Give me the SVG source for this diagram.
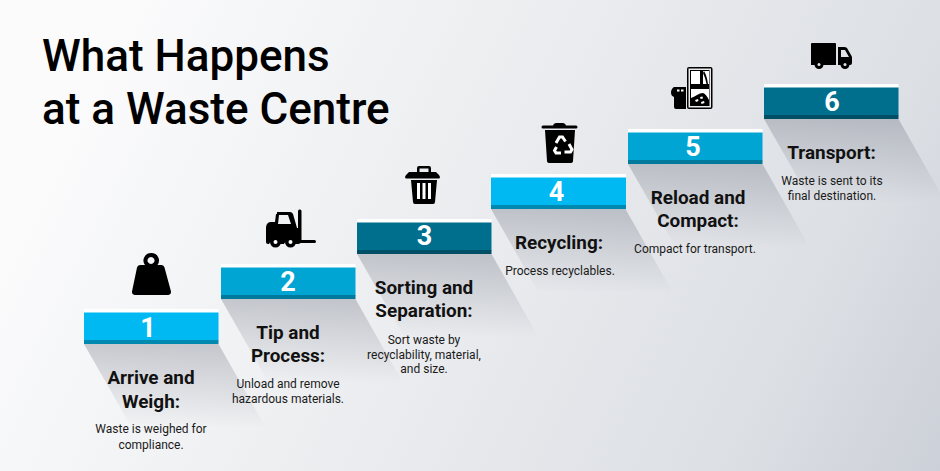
<svg xmlns="http://www.w3.org/2000/svg" width="940" height="471" viewBox="0 0 940 471">
<defs>
<linearGradient id="bg" gradientUnits="userSpaceOnUse" x1="100" y1="50" x2="940" y2="471"><stop offset="0" stop-color="#fbfbfc"/><stop offset="0.5" stop-color="#e8eaed"/><stop offset="0.8" stop-color="#dcdfe4"/><stop offset="1" stop-color="#ccd0d8"/></linearGradient>
<linearGradient id="sh" x1="0" y1="0" x2="0" y2="1"><stop offset="0" stop-color="#5a6070" stop-opacity="0.3"/><stop offset="1" stop-color="#5a6070" stop-opacity="0"/></linearGradient>
<path id="shadow" d="M0 0H134.500L182 84H48Z" fill="url(#sh)"/>
</defs>
<style>
text{font-family:Roboto,"Liberation Sans",sans-serif;text-anchor:middle;fill:#0a0a0a}
.title{font-size:44px;font-weight:500;text-anchor:start;fill:#000}
.h{font-size:18.900px;font-weight:700;fill:#111}
.b{font-size:12px;fill:#1a1a1a}
.n{font-size:27px;font-weight:700;fill:#fff}
.w{fill:#fff}.i{fill:#000}
.c1{fill:#00b9f2}.d1{fill:#0089b0}
.c2{fill:#00a5d3}.d2{fill:#007a9c}
.c3{fill:#006f8d}.d3{fill:#004f66}
</style>
<rect width="940" height="471" fill="url(#bg)"/>
<g id="title"><text class="title" x="42" y="71">What Happens</text><text class="title" x="42" y="124">at a Waste Centre</text></g>

<g id="step1">
<use href="#shadow" x="84" y="344"/>
<rect class="w" x="84" y="309" width="134.500" height="4"/><rect class="c1" x="84" y="312.500" width="134.500" height="28"/><rect class="d1" x="84" y="340" width="134.500" height="4"/>
<text class="n" x="148" y="337">1</text>
<path class="i" fill-rule="evenodd" d="M151.500 253a7.500 7.500 0 0 1 6 12h4q2.500 0 3 2.500l6.500 24q.5 3-2.500 3.500h-34q-3-.5-2.500-3.500l5-24q.5-2.500 3-2.500h5a7.500 7.500 0 0 1 6.500-12ZM151 257a3.500 3.500 0 1 0 .01 0Z"/>
<text class="h" x="151" y="384">Arrive and</text><text class="h" x="151" y="408">Weigh:</text>
<text class="b" x="151" y="433">Waste is weighed for</text><text class="b" x="151" y="449">compliance.</text>
</g>

<g id="step2">
<use href="#shadow" x="221" y="299"/>
<rect class="w" x="221" y="264" width="134.500" height="4"/><rect class="c2" x="221" y="267.500" width="134.500" height="28"/><rect class="d2" x="221" y="295" width="134.500" height="4"/>
<text class="n" x="288" y="291">2</text>
<path class="i" fill-rule="evenodd" d="M277 212h13q2 0 3 2l4 14h1q3 0 3 3v10q0 3-3 3h-3a6 6 0 0 0-11 0h-4a6 6 0 0 0-11 0h-1q-2 0-2-2v-14q0-5 4-6h5l1-8h1ZM279 215l-1 9h13l-3-9Z"/>
<path class="i" d="M298 211a1.800 1.800 0 0 1 3.500 0v29h13a1.500 1.500 0 0 1 0 3h-16.500Z"/>
<circle class="i" cx="275.500" cy="242" r="5.500"/><circle class="i" cx="290.500" cy="242" r="5.500"/><circle class="w" cx="275.500" cy="242" r="2"/><circle class="w" cx="290.500" cy="242" r="2"/>
<text class="h" x="288" y="339">Tip and</text><text class="h" x="288" y="362">Process:</text>
<text class="b" x="288" y="388">Unload and remove</text><text class="b" x="288" y="403">hazardous materials.</text>
</g>

<g id="step3">
<use href="#shadow" x="357" y="254"/>
<rect class="w" x="357" y="219" width="134.500" height="4"/><rect class="c3" x="357" y="222.500" width="134.500" height="28"/><rect class="d3" x="357" y="250" width="134.500" height="4"/>
<text class="n" x="424.500" y="245">3</text>
<path class="i" fill-rule="evenodd" d="M417 172v-4q0-2 2-2h10q2 0 2 2v4h5l3 3 1 2q0 1.500-1.500 1.500h-32q-1.500 0-1.500-1.500l1-2 3-3ZM419.500 172h9v-3.500h-9Z"/>
<path class="i" d="M411 180h26l-2 22q0 2-2 2h-18q-2 0-2-2Z"/>
<path class="w" d="M417 183h3v16h-3ZM422.500 183h3v16h-3ZM428 183h3v16h-3Z"/>
<text class="h" x="424" y="294">Sorting and</text><text class="h" x="424" y="317">Separation:</text>
<text class="b" x="424" y="344">Sort waste by</text><text class="b" x="424" y="359">recyclability, material,</text><text class="b" x="424" y="373">and size.</text>
</g>

<g id="step4">
<use href="#shadow" x="491" y="209"/>
<rect class="w" x="491" y="174" width="135" height="4"/><rect class="c1" x="491" y="177.500" width="135" height="28"/><rect class="d1" x="491" y="205" width="135" height="4"/>
<text class="n" x="556.500" y="201">4</text>
<path class="i" d="M553 125.500q.5-2.500 3-2.500h7q2.500 0 3 2.500h10q1.500 0 1.500 1.500t-1.500 1.500h-33q-1.500 0-1.500-1.500t1.500-1.500ZM545 130h30l-2 31q0 2-3 2h-20q-3 0-3-2Z"/>
<g fill="none" stroke="#fff" stroke-width="3"><path d="M556 143l3.500-6h3l3 4.500"/><path d="M569 144l3 5.500-1.500 2.500h-6"/><path d="M561 153h-5l-1.500-2.500 2-3.500"/></g>
<text class="h" x="559" y="249">Recycling:</text>
<text class="b" x="560" y="275">Process recyclables.</text>
</g>

<g id="step5">
<use href="#shadow" x="628" y="164"/>
<rect class="w" x="628" y="129" width="134.500" height="4"/><rect class="c2" x="628" y="132.500" width="134.500" height="28"/><rect class="d2" x="628" y="160" width="134.500" height="4"/>
<text class="n" x="693" y="156">5</text>
<rect x="687" y="67" width="25.500" height="42" rx="2" class="i"/>
<rect x="688.500" y="68.500" width="22.500" height="39" fill="#e8eaed"/>
<rect x="690" y="70" width="19.500" height="36" class="i"/>
<rect x="691" y="71" width="18" height="13" class="w"/><rect x="691" y="89" width="18" height="16" class="w"/>
<path class="i" d="M700 71h3v13h-3ZM704 71q3 5 4 13h-1.500q-1-6-3.500-11Z"/>
<path class="i" d="M691 105v-7q3-1 6-3t6-2q3 1 6 7v5Z"/>
<path class="w" d="M695 100l3-1 .5 2-2.500 1ZM701 102l3-1 .5 2-3 1ZM700 97l2.500-.5.5 2-2.500.5Z"/>
<path class="i" d="M677 87h9v22h-10q-2 0-2-2V97q-3-1-3-4.500t3-5.500Z"/>
<path class="w" d="M677 89.500h2.500v2h-2.500ZM681 89.500h2.500v2h-2.500Z"/>
<text class="h" x="698" y="204">Reload and</text><text class="h" x="698" y="227">Compact:</text>
<text class="b" x="695" y="253">Compact for transport.</text>
</g>

<g id="step6">
<use href="#shadow" x="764" y="119"/>
<rect class="w" x="764" y="84" width="134.500" height="4"/><rect class="c3" x="764" y="87.500" width="134.500" height="28"/><rect class="d3" x="764" y="115" width="134.500" height="4"/>
<text class="n" x="832" y="111">6</text>
<path class="i" fill-rule="evenodd" d="M812 43h23q1 0 1 1v21h-25V44q0-1 1-1ZM838 47h6q2 0 3 1l4 7q1 1 1 3v5q0 2-2 2h-12ZM841 50v7h8l-4-7Z"/>
<circle class="i" cx="819" cy="64.500" r="4.500"/><circle class="i" cx="845" cy="64.500" r="4.500"/><circle fill="#dfe2e7" cx="819" cy="64.500" r="1.500"/><circle fill="#dfe2e7" cx="845" cy="64.500" r="1.500"/>
<text class="h" x="831.500" y="159">Transport:</text>
<text class="b" x="832" y="185">Waste is sent to its</text><text class="b" x="832" y="200">final destination.</text>
</g>
</svg>
